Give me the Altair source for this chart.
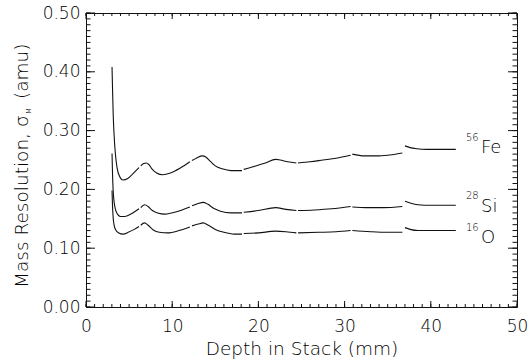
import altair as alt
import pandas as pd

# ---------------- data ----------------
# each element: list of detector segments, depth (mm) and sigma_M (amu)
fe_depth = [
    [3.02, 3.08, 3.15, 3.25, 3.4, 3.6, 3.9, 4.3, 4.8, 5.4, 6.15],
    [6.35, 6.7, 7.0, 7.3, 7.7, 8.2, 8.9, 9.8, 10.9, 12.05],
    [12.3, 12.9, 13.5, 13.9, 14.4, 15.0, 15.8, 16.8, 18.1],
    [18.3, 19.5, 20.8, 22.0, 22.5, 23.4, 24.4],
    [24.6, 26.0, 27.5, 29.0, 30.7],
    [30.9, 32.3, 34.0, 35.5, 36.7],
    [37.0, 37.6, 38.4, 39.5, 41.0, 42.9],
]
fe_sigma = [
    [0.408, 0.370, 0.330, 0.295, 0.262, 0.237, 0.222, 0.216, 0.218, 0.226, 0.237],
    [0.240, 0.244, 0.245, 0.242, 0.234, 0.228, 0.225, 0.228, 0.236, 0.247],
    [0.249, 0.254, 0.257, 0.255, 0.248, 0.240, 0.235, 0.232, 0.232],
    [0.234, 0.239, 0.245, 0.251, 0.250, 0.247, 0.245],
    [0.245, 0.247, 0.250, 0.253, 0.258],
    [0.260, 0.257, 0.257, 0.259, 0.262],
    [0.274, 0.271, 0.269, 0.268, 0.268, 0.268],
]
si_depth = [
    [3.02, 3.08, 3.15, 3.25, 3.4, 3.65, 4.0, 4.5, 5.2, 6.15],
    [6.35, 6.8, 7.2, 7.7, 8.3, 9.2, 10.5, 12.05],
    [12.3, 13.0, 13.6, 14.1, 14.8, 15.6, 16.8, 18.1],
    [18.3, 20.0, 22.0, 23.2, 24.4],
    [24.6, 26.5, 28.5, 30.7],
    [30.9, 32.5, 34.5, 36.7],
    [37.0, 37.6, 38.5, 40.0, 42.9],
]
si_sigma = [
    [0.261, 0.225, 0.198, 0.180, 0.167, 0.158, 0.154, 0.154, 0.158, 0.167],
    [0.169, 0.174, 0.171, 0.164, 0.160, 0.158, 0.162, 0.170],
    [0.172, 0.176, 0.178, 0.175, 0.168, 0.163, 0.160, 0.160],
    [0.161, 0.164, 0.169, 0.166, 0.164],
    [0.164, 0.165, 0.167, 0.171],
    [0.170, 0.169, 0.169, 0.171],
    [0.180, 0.177, 0.174, 0.173, 0.173],
]
o_depth = [
    [3.02, 3.08, 3.15, 3.25, 3.45, 3.8, 4.3, 4.9, 5.6, 6.15],
    [6.35, 6.8, 7.2, 7.8, 8.5, 9.5, 10.8, 12.05],
    [12.3, 13.0, 13.6, 14.2, 15.0, 16.0, 17.2, 18.1],
    [18.3, 20.0, 22.0, 23.2, 24.4],
    [24.6, 27.0, 29.0, 30.7],
    [30.9, 33.0, 35.0, 36.7],
    [37.0, 37.6, 38.5, 40.0, 42.9],
]
o_sigma = [
    [0.198, 0.170, 0.152, 0.140, 0.131, 0.126, 0.124, 0.127, 0.132, 0.137],
    [0.139, 0.143, 0.139, 0.131, 0.127, 0.126, 0.130, 0.136],
    [0.138, 0.141, 0.143, 0.139, 0.132, 0.127, 0.124, 0.124],
    [0.125, 0.126, 0.129, 0.128, 0.126],
    [0.126, 0.127, 0.128, 0.130],
    [0.130, 0.128, 0.127, 0.127],
    [0.135, 0.132, 0.130, 0.130, 0.130],
]

elements = ["Fe", "Si", "O"]
mass_numbers = ["56", "28", "16"]
label_sigma = [0.2614, 0.1616, 0.1088]   # baseline of each curve label

x_major = [0, 10, 20, 30, 40, 50]
y_major = [0.0, 0.1, 0.2, 0.3, 0.4, 0.5]
x_minor = list(range(0, 51))
y_minor = [round(k * 0.01, 2) for k in range(0, 51)]

# ---------------- build tables ----------------
rows = []
for name, dsegs, ssegs in [("Fe", fe_depth, fe_sigma), ("Si", si_depth, si_sigma), ("O", o_depth, o_sigma)]:
    for i, (ds, ss) in enumerate(zip(dsegs, ssegs)):
        for d, s in zip(ds, ss):
            rows.append({"elem": name, "seg": f"{name}{i}", "depth": d, "sigma": s})
df = pd.DataFrame(rows)
labels = pd.DataFrame({"elem": elements, "mass": mass_numbers, "ly": label_sigma})

W, H = 431, 294
FONT = "DejaVu Sans"
FW = 300
INK = "#000000"
x_scale = alt.Scale(domain=[0, 50], nice=False, zero=False)
y_scale = alt.Scale(domain=[0, 0.5], nice=False, zero=False)

main = alt.Chart(df).mark_line(
    interpolate="monotone", color="#111111", strokeWidth=1.1
).encode(
    x=alt.X("depth:Q", scale=x_scale, axis=alt.Axis(
        values=x_major, format="d", ticks=False, tickSize=0, domain=False, grid=False,
        labelPadding=11, labelFont=FONT, labelFontSize=17, labelFontWeight=FW,
        labelColor=INK, labelFlush=False, labelOverlap=False,
        title="Depth in Stack (mm)", titleFont=FONT, titleFontSize=18.5,
        titleFontWeight=FW, titleColor=INK, titlePadding=5)),
    y=alt.Y("sigma:Q", scale=y_scale, axis=alt.Axis(
        values=y_major, format=".2f", ticks=False, tickSize=0, domain=False, grid=False,
        labelPadding=6, labelFont=FONT, labelFontSize=17, labelFontWeight=FW,
        labelColor=INK, labelFlush=False, labelOverlap=False, title=None)),
    detail="seg:N",
)


def xticks(values, y0, y1):
    return alt.Chart(pd.DataFrame({"v": values})).mark_rule(color="#111111", strokeWidth=1).encode(
        x=alt.X("v:Q", scale=x_scale, axis=None), y=alt.value(y0), y2=alt.value(y1))


def yticks(values, x0, x1):
    return alt.Chart(pd.DataFrame({"v": values})).mark_rule(color="#111111", strokeWidth=1).encode(
        y=alt.Y("v:Q", scale=y_scale, axis=None), x=alt.value(x0), x2=alt.value(x1))


ticks = [
    xticks(x_minor, H, H - 3), xticks(x_major, H, H - 6),
    xticks(x_minor, 0, 3), xticks(x_major, 0, 6),
    yticks(y_minor, 0, 4.5), yticks(y_major, 0, 9),
    yticks(y_minor, W, W - 4.5), yticks(y_major, W, W - 9),
]

lab_main = alt.Chart(labels).mark_text(
    font=FONT, fontSize=18, fontWeight=FW, color=INK, align="left", baseline="alphabetic"
).encode(x=alt.value(395), y=alt.Y("ly:Q", scale=y_scale, axis=None), text="elem:N")
lab_sup = alt.Chart(labels).mark_text(
    font=FONT, fontSize=10, fontWeight=FW, color=INK, align="left", baseline="alphabetic", dy=-12.5
).encode(x=alt.value(380), y=alt.Y("ly:Q", scale=y_scale, axis=None), text="mass:N")

# y-axis title: "Mass Resolution, σ" + subscript M + " (amu)"
yt1 = alt.Chart(pd.DataFrame({"t": ["Mass Resolution, \u03c3"]})).mark_text(
    font=FONT, fontSize=18.5, fontWeight=FW, color=INK, angle=270, align="left", baseline="alphabetic"
).encode(x=alt.value(-58), y=alt.value(288 - 13), text="t:N")
yt2 = alt.Chart(pd.DataFrame({"t": ["M"]})).mark_text(
    font=FONT, fontSize=7, fontWeight=FW, color=INK, angle=270, align="left", baseline="alphabetic"
).encode(x=alt.value(-55), y=alt.value(288 - 13 - 174), text="t:N")
yt3 = alt.Chart(pd.DataFrame({"t": ["(amu)"]})).mark_text(
    font=FONT, fontSize=18.5, fontWeight=FW, color=INK, angle=270, align="left", baseline="alphabetic"
).encode(x=alt.value(-58), y=alt.value(288 - 13 - 189), text="t:N")

chart = alt.layer(
    main, *ticks, lab_main, lab_sup, yt1, yt2, yt3
).resolve_axis(
    x="independent", y="independent"
).properties(
    width=W, height=H,
    padding={"left": 86, "top": 13, "right": 13, "bottom": 54},
    autosize=alt.AutoSizeParams(type="none"),
    background="white",
).configure_view(stroke="#111111", strokeWidth=1)

chart.save("out.html", embed_options={"renderer": "svg", "actions": False})
